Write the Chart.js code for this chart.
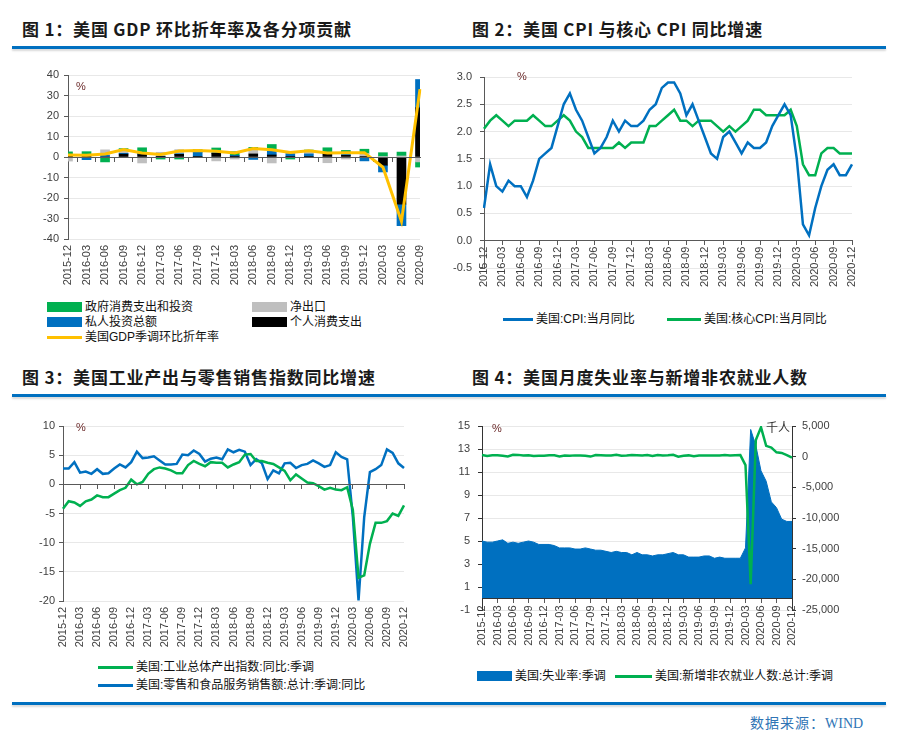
<!DOCTYPE html>
<html lang="zh-CN">
<head>
<meta charset="UTF-8">
<title>美国经济数据</title>
<script src="https://cdn.jsdelivr.net/npm/chart.js"></script>
<style>
  body { margin: 0; background: #fff; }
  #page { position: relative; width: 898px; height: 740px; overflow: hidden; font-family: 'Liberation Sans', 'Noto Sans CJK SC', sans-serif; }
  .title { position: absolute; font-family: 'Noto Sans CJK SC', sans-serif; font-weight: bold; font-size: 17px; letter-spacing: 0.8px; line-height: 20px; color: #1a1a1a; white-space: nowrap; }
  .rule { position: absolute; left: 12px; width: 874px; height: 2.5px; background: #0070C0; box-shadow: 0 2px 2px rgba(0,0,0,0.15); }
  .box { position: absolute; }
  .unit { position: absolute; font-size: 11px; color: #6b2a2a; line-height: 12px; }
  .sw { position: absolute; }
  .lt { position: absolute; font-size: 12px; line-height: 16px; color: #111; white-space: nowrap; }
  #src { position: absolute; left: 750px; top: 712px; font-family: 'Noto Sans CJK SC', sans-serif; font-size: 14px; letter-spacing: 1px; color: #2F74B5; }
  #src span { font-family: 'Liberation Serif', serif; letter-spacing: 0; }
</style>
</head>
<body>
<div id="page">
  <div class="title" style="left:22px; top:19px;">图 1：美国 GDP 环比折年率及各分项贡献</div>
  <div class="title" style="left:472px; top:19px;">图 2：美国 CPI 与核心 CPI 同比增速</div>
  <div class="rule" style="top:46px;"></div>
  <div class="title" style="left:22px; top:367px;">图 3：美国工业产出与零售销售指数同比增速</div>
  <div class="title" style="left:472px; top:367px;">图 4：美国月度失业率与新增非农就业人数</div>
  <div class="rule" style="top:394px;"></div>
  <div class="rule" style="top:702px;"></div>
  <div id="src">数据来源：<span>WIND</span></div>

  <div class="box" style="left:0; top:60px;"><canvas id="c1" width="450" height="235"></canvas></div>
  <div class="box" style="left:450px; top:60px;"><canvas id="c2" width="448" height="235"></canvas></div>
  <div class="box" style="left:0; top:390px;"><canvas id="c3" width="450" height="260"></canvas></div>
  <div class="box" style="left:450px; top:390px;"><canvas id="c4" width="448" height="260"></canvas></div>

  <div class="unit" style="left:76px; top:80px;">%</div>
  <div class="unit" style="left:517px; top:70px;">%</div>
  <div class="unit" style="left:76px; top:421px;">%</div>
  <div class="unit" style="left:492px; top:422px;">%</div>
  <div class="unit" style="left:766px; top:421px; color:#333; font-size:12px; font-family:'Noto Sans CJK SC';">千人</div>
</div>

<script>
// 图1 季度数据
const quarters = ['2015-12','2016-03','2016-06','2016-09','2016-12','2017-03','2017-06','2017-09','2017-12','2018-03',
                  '2018-06','2018-09','2018-12','2019-03','2019-06','2019-09','2019-12','2020-03','2020-06','2020-09'];
const pce        = [0.5, 0.3, 0.0, 1.4, 1.2, 0.3, 1.3, 0.3, 1.8, 0.4, 1.5, 1.0, 0.3, 0.3, 1.8, 0.8, 0.2, -4.0, -23.0, 24.0];
const investment = [0.0, -1.3, 0.8, 0.4, 0.6, 0.0, 0.3, 2.1, 0.9, 0.4, -1.2, 2.5, 1.3, 1.2, 0.5, 0.6, -1.9, -3.3, -10.5, 13.8];
const netExports = [-2.0, 0.5, 2.7, 1.0, -2.9, 2.0, 2.0, 0.0, -1.9, -1.0, 2.0, -2.9, 0.0, 1.0, -2.8, -1.0, 1.5, 0.3, 0.5, -2.4];
const government = [2.0, 1.8, -2.4, 1.3, 2.7, -1.0, -1.0, 1.2, 1.7, 1.8, 1.2, 2.6, -1.0, 0.9, 2.2, 1.8, 2.1, 1.8, 1.9, -2.5];
const gdpRate    = [1.0, 0.8, 1.5, 3.6, 2.0, 1.2, 2.9, 3.2, 2.8, 2.0, 4.1, 3.5, 2.2, 3.1, 2.0, 2.1, 2.1, -5.0, -31.4, 33.1];

// 图2-4 月度数据
const months = ['2015-12',
  '2016-01','2016-02','2016-03','2016-04','2016-05','2016-06','2016-07','2016-08','2016-09','2016-10','2016-11','2016-12',
  '2017-01','2017-02','2017-03','2017-04','2017-05','2017-06','2017-07','2017-08','2017-09','2017-10','2017-11','2017-12',
  '2018-01','2018-02','2018-03','2018-04','2018-05','2018-06','2018-07','2018-08','2018-09','2018-10','2018-11','2018-12',
  '2019-01','2019-02','2019-03','2019-04','2019-05','2019-06','2019-07','2019-08','2019-09','2019-10','2019-11','2019-12',
  '2020-01','2020-02','2020-03','2020-04','2020-05','2020-06','2020-07','2020-08','2020-09','2020-10','2020-11','2020-12'];

const cpi = [0.6,
  1.4, 1.0, 0.9, 1.1, 1.0, 1.0, 0.8, 1.1, 1.5, 1.6, 1.7, 2.1,
  2.5, 2.7, 2.4, 2.2, 1.9, 1.6, 1.7, 1.9, 2.2, 2.0, 2.2, 2.1,
  2.1, 2.2, 2.4, 2.5, 2.8, 2.9, 2.9, 2.7, 2.3, 2.5, 2.2, 1.9,
  1.6, 1.5, 1.9, 2.0, 1.8, 1.6, 1.8, 1.7, 1.7, 1.8, 2.1, 2.3,
  2.5, 2.3, 1.5, 0.3, 0.1, 0.6, 1.0, 1.3, 1.4, 1.2, 1.2, 1.4];
const coreCpi = [2.05,
  2.2, 2.3, 2.2, 2.1, 2.2, 2.2, 2.2, 2.3, 2.2, 2.1, 2.1, 2.2,
  2.3, 2.2, 2.0, 1.9, 1.7, 1.7, 1.7, 1.7, 1.7, 1.8, 1.7, 1.8,
  1.8, 1.8, 2.1, 2.1, 2.2, 2.3, 2.4, 2.2, 2.2, 2.1, 2.2, 2.2,
  2.2, 2.1, 2.0, 2.1, 2.0, 2.1, 2.2, 2.4, 2.4, 2.3, 2.3, 2.3,
  2.3, 2.4, 2.1, 1.4, 1.2, 1.2, 1.6, 1.7, 1.7, 1.6, 1.6, 1.6];

const industry = [-4.2,
  -2.9, -3.1, -3.7, -2.9, -2.6, -1.9, -2.2, -2.2, -1.6, -1.0, -0.6, 0.8,
  0.0, 0.4, 1.8, 2.6, 2.9, 2.7, 2.4, 1.9, 1.9, 3.3, 4.0, 3.5,
  3.1, 3.8, 3.7, 3.7, 2.9, 3.4, 3.8, 5.1, 5.2, 4.0, 4.0, 3.7,
  3.5, 2.9, 2.3, 0.7, 1.7, 1.0, 0.3, 0.2, -0.3, -0.9, -0.6, -0.9,
  -1.0, -0.5, -4.4, -16.0, -15.6, -10.2, -6.6, -6.6, -6.3, -5.0, -5.4, -3.6];
const retail = [2.7,
  2.7, 3.8, 2.0, 2.2, 1.8, 2.6, 1.8, 1.9, 2.7, 3.4, 2.9, 3.8,
  5.6, 4.5, 4.6, 4.8, 4.1, 3.4, 3.4, 3.5, 5.1, 5.0, 5.8, 5.2,
  3.9, 4.4, 4.6, 4.3, 6.0, 5.5, 5.9, 5.6, 3.3, 4.3, 3.6, 0.9,
  2.4, 1.9, 3.6, 3.7, 2.8, 3.3, 3.5, 4.1, 3.6, 3.0, 3.3, 5.5,
  4.7, 4.3, -5.6, -19.9, -5.6, 2.1, 2.6, 3.3, 6.0, 5.4, 3.6, 2.8];

const unemployment = [5.0,
  4.9, 4.9, 5.0, 5.1, 4.8, 4.9, 4.8, 4.9, 5.0, 4.9, 4.7, 4.7,
  4.7, 4.6, 4.4, 4.4, 4.4, 4.3, 4.3, 4.4, 4.3, 4.2, 4.2, 4.1,
  4.0, 4.1, 4.0, 4.0, 3.8, 4.0, 3.8, 3.8, 3.7, 3.8, 3.8, 3.9,
  4.0, 3.8, 3.8, 3.6, 3.6, 3.6, 3.7, 3.7, 3.5, 3.6, 3.5, 3.5,
  3.5, 3.5, 4.4, 14.7, 13.3, 11.1, 10.2, 8.4, 7.9, 6.9, 6.7, 6.7];
const payrolls = [280,
  126, 237, 225, 153, 43, 297, 291, 176, 249, 124, 164, 155,
  216, 232, 50, 207, 145, 210, 187, 156, 14, 271, 216, 175,
  176, 324, 155, 175, 268, 248, 178, 282, 108, 277, 196, 227,
  312, 1, 147, 210, 85, 182, 194, 207, 208, 185, 261, 184,
  214, 251, -1373, -20787, 2725, 4781, 1761, 1493, 711, 610, 264, -140];

// 颜色
const green = '#00B050', blue = '#0070C0', grey = '#BFBFBF', gold = '#FFC000';
const gridLight = '#e8e8e8';
const axisDark = '#595959';

Chart.defaults.font.family = "'Liberation Sans', 'Noto Sans CJK SC', sans-serif";
Chart.defaults.font.size = 11;
Chart.defaults.color = '#404040';
Chart.defaults.animation = false;

const basePlugins = { legend: { display: false }, tooltip: { enabled: false } };

// 每三个月一个刻度
function everyThird(ctx) { return ctx.index % 3 === 0 ? axisDark : 'rgba(0,0,0,0)'; }
function monthLabel(v, i) { return i % 3 === 0 ? this.getLabelForValue(v) : ''; }

const rotated = { autoSkip: false, minRotation: 90, maxRotation: 90 };

// 图1
new Chart(document.getElementById('c1'), {
    type: 'bar',
    data: {
        labels: quarters,
        datasets: [
            { type: 'line', label: '美国GDP季调环比折年率', data: gdpRate, borderColor: gold, borderWidth: 3, pointRadius: 0, order: 0 },
            { label: '个人消费支出', data: pce, backgroundColor: '#000000', barThickness: 9, order: 1 },
            { label: '私人投资总额', data: investment, backgroundColor: blue, barThickness: 9, order: 1 },
            { label: '净出口', data: netExports, backgroundColor: grey, barThickness: 9, order: 1 },
            { label: '政府消费支出和投资', data: government, backgroundColor: green, barThickness: 9, order: 1 }
        ]
    },
    options: {
        responsive: false,
        devicePixelRatio: 1,
        layout: { padding: { top: 15, right: 30, bottom: 0, left: 0 } },
        plugins: basePlugins,
        scales: {
            x: {
                offset: false, stacked: true,
                grid: { display: false, drawTicks: false }, border: { display: false },
                ticks: Object.assign({ padding: 6 }, rotated),
                afterFit: s => { s.height = 56; }
            },
            x0: {
                type: 'category', offset: false, position: { y: 0 },
                grid: { drawOnChartArea: false, tickLength: 4, color: axisDark },
                border: { color: axisDark, z: 1 },
                ticks: { display: false }
            },
            y: {
                stacked: true, min: -40, max: 40,
                ticks: { stepSize: 10, padding: 5 },
                grid: { color: gridLight, tickColor: axisDark, tickLength: 4 },
                border: { color: axisDark },
                afterFit: s => { s.width = 68; }
            }
        }
    }
});

// 图2
new Chart(document.getElementById('c2'), {
    type: 'line',
    data: {
        labels: months,
        datasets: [
            { label: '美国:CPI:当月同比', data: cpi, borderColor: blue, borderWidth: 2.5, pointRadius: 0 },
            { label: '美国:核心CPI:当月同比', data: coreCpi, borderColor: green, borderWidth: 2.5, pointRadius: 0 }
        ]
    },
    options: {
        responsive: false,
        devicePixelRatio: 1,
        layout: { padding: { top: 17, right: 46, bottom: 27, left: 0 } },
        plugins: basePlugins,
        scales: {
            x: {
                offset: false, position: { y: 0 },
                grid: { drawOnChartArea: false, tickLength: 4, color: everyThird },
                border: { color: axisDark, z: 1 },
                ticks: Object.assign({ padding: 2, callback: monthLabel }, rotated)
            },
            y: {
                min: -0.5, max: 3,
                ticks: { stepSize: 0.5, padding: 8, callback: v => v.toFixed(1) },
                grid: { color: gridLight, tickColor: axisDark, tickLength: 4 },
                border: { color: axisDark },
                afterFit: s => { s.width = 34; }
            }
        }
    }
});

// 图3
new Chart(document.getElementById('c3'), {
    type: 'line',
    data: {
        labels: months,
        datasets: [
            { label: '美国:工业总体产出指数:同比:季调', data: industry, borderColor: green, borderWidth: 2.5, pointRadius: 0 },
            { label: '美国:零售和食品服务销售额:总计:季调:同比', data: retail, borderColor: blue, borderWidth: 2.5, pointRadius: 0 }
        ]
    },
    options: {
        responsive: false,
        devicePixelRatio: 1,
        layout: { padding: { top: 36, right: 46, bottom: 0, left: 0 } },
        plugins: basePlugins,
        scales: {
            x: {
                offset: false,
                grid: { display: false, drawTicks: false }, border: { display: false },
                ticks: Object.assign({ padding: 6, callback: monthLabel }, rotated),
                afterFit: s => { s.height = 49; }
            },
            x0: {
                type: 'category', offset: false, position: { y: 0 },
                grid: { drawOnChartArea: false, tickLength: 4, color: everyThird },
                border: { color: axisDark, z: 1 },
                ticks: { display: false }
            },
            y: {
                min: -20, max: 10,
                ticks: { stepSize: 5, padding: 4 },
                grid: { color: gridLight, tickColor: axisDark, tickLength: 4 },
                border: { color: axisDark },
                afterFit: s => { s.width = 63; }
            }
        }
    }
});

// 图4
new Chart(document.getElementById('c4'), {
    type: 'line',
    data: {
        labels: months,
        datasets: [
            { label: '美国:新增非农就业人数:总计:季调', data: payrolls, yAxisID: 'y1', borderColor: green, borderWidth: 2.5, pointRadius: 0, order: 0 },
            { label: '美国:失业率:季调', data: unemployment, yAxisID: 'y', borderColor: blue, borderWidth: 1, backgroundColor: blue, fill: 'origin', pointRadius: 0, order: 1 }
        ]
    },
    options: {
        responsive: false,
        devicePixelRatio: 1,
        layout: { padding: { top: 36, right: 0, bottom: 40, left: 0 } },
        plugins: Object.assign({ filler: { propagate: false } }, basePlugins),
        scales: {
            x: {
                offset: false, position: { y: 0 },
                grid: { drawOnChartArea: false, tickLength: 4, color: everyThird },
                border: { color: '#333', z: 1 },
                ticks: Object.assign({ padding: 3, callback: monthLabel }, rotated)
            },
            y: {
                min: -1, max: 15,
                ticks: { stepSize: 2, padding: 8 },
                grid: { color: gridLight, tickColor: '#333', tickLength: 4 },
                border: { color: '#333' },
                afterFit: s => { s.width = 32; }
            },
            y1: {
                position: 'right', min: -25000, max: 5000,
                ticks: { stepSize: 5000, padding: 6 },
                grid: { drawOnChartArea: false, tickColor: '#333', tickLength: 4 },
                border: { color: '#333' },
                afterFit: s => { s.width = 106; }
            }
        }
    }
});

// 图例
const page = document.getElementById('page');
function legendItem(x, cy, kind, color, text, w) {
    const sw = document.createElement('div');
    sw.className = 'sw';
    const h = kind === 'rect' ? 10 : 3;
    sw.style.cssText = `left:${x}px; top:${cy - h / 2}px; width:${w}px; height:${h}px; background:${color};`;
    page.appendChild(sw);
    const t = document.createElement('div');
    t.className = 'lt';
    t.style.cssText = `left:${x + w + 3}px; top:${cy - 8}px;`;
    t.textContent = text;
    page.appendChild(t);
}
legendItem(47, 307, 'rect', green, '政府消费支出和投资', 35);
legendItem(252, 307, 'rect', grey, '净出口', 35);
legendItem(47, 322, 'rect', blue, '私人投资总额', 35);
legendItem(252, 322, 'rect', '#000', '个人消费支出', 35);
legendItem(47, 337, 'line', gold, '美国GDP季调环比折年率', 35);

legendItem(503, 319, 'line', blue, '美国:CPI:当月同比', 30);
legendItem(667, 319, 'line', green, '美国:核心CPI:当月同比', 34);

legendItem(98, 667, 'line', green, '美国:工业总体产出指数:同比:季调', 35);
legendItem(98, 685, 'line', blue, '美国:零售和食品服务销售额:总计:季调:同比', 35);

legendItem(477, 676, 'rect', blue, '美国:失业率:季调', 35);
legendItem(615, 676, 'line', green, '美国:新增非农就业人数:总计:季调', 37);
</script>
</body>
</html>
